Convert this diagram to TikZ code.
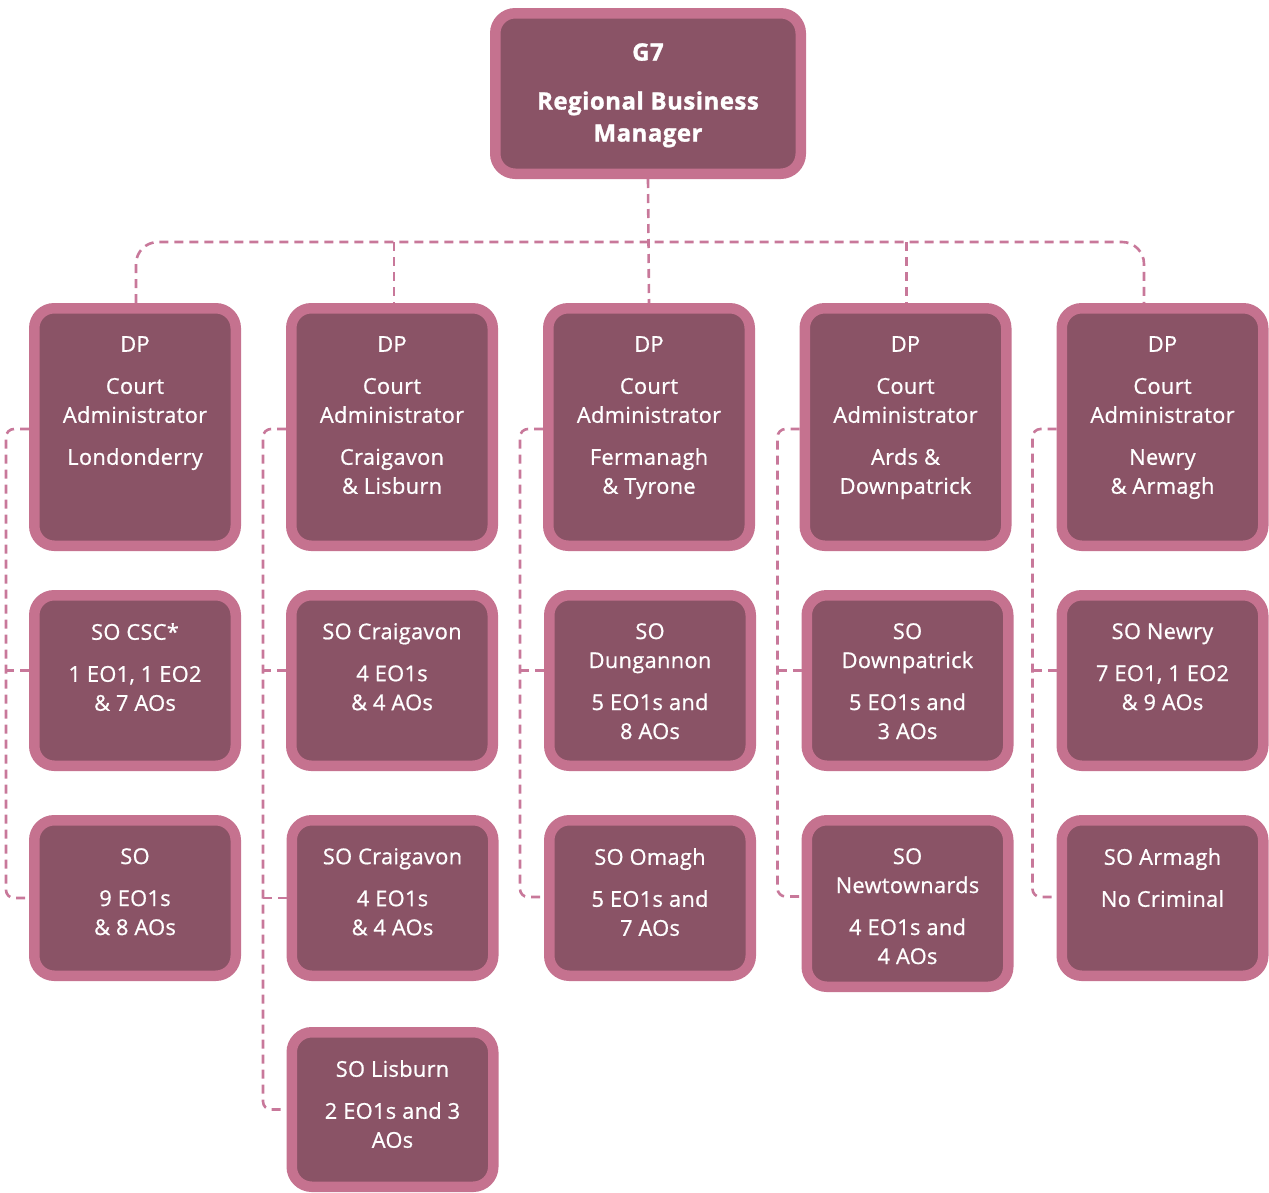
\documentclass[tikz,border=0pt]{standalone}
\usepackage{fontspec}
\setmainfont{Open Sans}
\newfontfamily\boxfont{Open Sans}[FakeBold=0.8, LetterSpace=1.5]
\newfontfamily\topfont{Open Sans}[BoldFeatures={FakeBold=1.2}, LetterSpace=2]
\definecolor{boxfill}{HTML}{8A5366}
\definecolor{boxline}{HTML}{C5728F}
\definecolor{conncol}{HTML}{C8789A}
\tikzset{
  obox/.style={draw=boxline, fill=boxfill, line width=10.5pt, rounded corners=20pt, inner sep=0pt},
  txt/.style={text=white, inner sep=0pt, align=center, anchor=north, font=\boxfont\fontsize{21.8}{29}\selectfont},
  toptxt/.style={text=white, inner sep=0pt, align=center, anchor=north, font=\topfont\fontsize{24}{32}\selectfont\bfseries},
  conn/.style={draw=conncol, line width=2.6pt, dash pattern=on 9pt off 6pt},
}
\newcommand\obnode[6]{%
  \node[obox, minimum width=#4pt-10.5pt, minimum height=#5pt-10.5pt] (#1) at (#2,#3) {};
  \node[txt] (#1t) at ([yshift=-33pt]#1.north) {#6};}
\begin{document}
\begin{tikzpicture}[x=1pt,y=-1pt]
\useasboundingbox (0,0) rectangle (1269,1192);
% top
\node[obox, minimum width=305.5pt, minimum height=160.5pt] (top) at (648,93.5) {};
\node[toptxt] (topt) at ([yshift=-35pt]top.north) {G7\\[17pt]Regional Business\\Manager};
% row 1
\obnode{b1}{135}{427}{212}{248}{DP\\[13pt]Court\\Administrator\\[13pt]Londonderry}
\obnode{b2}{392}{427}{212}{248}{DP\\[13pt]Court\\Administrator\\[13pt]Craigavon\\\& Lisburn}
\obnode{b3}{649}{427}{212}{248}{DP\\[13pt]Court\\Administrator\\[13pt]Fermanagh\\\& Tyrone}
\obnode{b4}{905.5}{427}{212}{248}{DP\\[13pt]Court\\Administrator\\[13pt]Ards \&\\Downpatrick}
\obnode{b5}{1162.5}{427}{212}{248}{DP\\[13pt]Court\\Administrator\\[13pt]Newry\\\& Armagh}
% row 2
\obnode{c1}{135}{680.5}{212}{181}{SO CSC*\\[13pt]1 EO1, 1 EO2\\\& 7 AOs}
\obnode{c2}{392}{680.5}{212}{181}{SO Craigavon\\[13pt]4 EO1s\\\& 4 AOs}
\obnode{c3}{650}{680.5}{212}{181}{SO\\Dungannon\\[13pt]5 EO1s and\\8 AOs}
\obnode{c4}{907.5}{680.5}{212}{181}{SO\\Downpatrick\\[13pt]5 EO1s and\\3 AOs}
\obnode{c5}{1162.5}{680.5}{212}{181}{SO Newry\\[13pt]7 EO1, 1 EO2\\\& 9 AOs}
% row 3
\obnode{d1}{135}{898}{212}{166}{SO\\[13pt]9 EO1s\\\& 8 AOs}
\obnode{d2}{392.5}{898}{212}{166}{SO Craigavon\\[13pt]4 EO1s\\\& 4 AOs}
\obnode{d3}{650}{898}{212}{166}{SO Omagh\\[13pt]5 EO1s and\\7 AOs}
\obnode{d4}{907.5}{903.5}{212}{177}{SO\\Newtownards\\[13pt]4 EO1s and\\4 AOs}
\obnode{d5}{1162.5}{898}{212}{166}{SO Armagh\\[13pt]No Criminal}
% row 4
\obnode{e2}{392.5}{1109.5}{212}{165}{SO Lisburn\\[13pt]2 EO1s and 3\\AOs}
% bus
\coordinate (bus) at (648,242);
\draw[conn] (top.south) -- (b3.north);
\draw[conn, rounded corners=22pt] ([xshift=1pt]b1.north) |- (bus) -| ([xshift=-18.5pt]b5.north);
\draw[conn] (b2.north |- bus) ++(2,0) -- ([xshift=2pt]b2.north);
\draw[conn] (b4.north |- bus) ++(1,0) -- ([xshift=1pt]b4.north);
% left spines
\draw[conn, rounded corners=8pt] ([yshift=-2pt]b1.west) -- ++(-23,0) |- (d1.west);
\draw[conn] ([yshift=10pt]c1.west) -- ++(-23,0);
\draw[conn, rounded corners=8pt] ([yshift=-2pt]b2.west) -- ++(-23,0) |- (e2.west);
\draw[conn] ([yshift=10pt]c2.west) -- ++(-24,0);
\draw[conn] (d2.west) -- ++(-24,0);
\draw[conn, rounded corners=8pt] ([yshift=-2pt]b3.west) -- ++(-23,0) |- ([yshift=1pt]d3.west);
\draw[conn] ([yshift=10pt]c3.west) -- ++(-24,0);
\draw[conn, rounded corners=8pt] ([yshift=-2pt]b4.west) -- ++(-22,0) |- ([yshift=7pt]d4.west);
\draw[conn] ([yshift=10pt]c4.west) -- ++(-24,0);
\draw[conn, rounded corners=8pt] ([yshift=-2pt]b5.west) -- ++(-24,0) |- ([yshift=1pt]d5.west);
\draw[conn] ([yshift=10pt]c5.west) -- ++(-24,0);
\end{tikzpicture}
\end{document}
